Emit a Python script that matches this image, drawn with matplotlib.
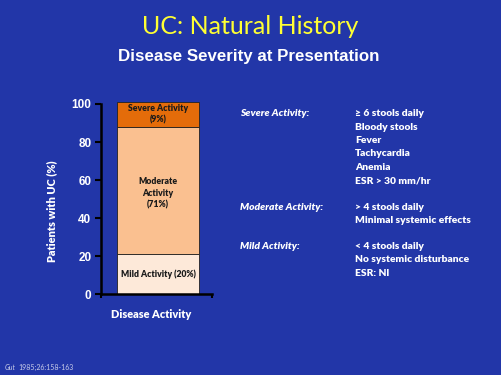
import matplotlib
matplotlib.use("Agg")
import matplotlib.pyplot as plt

# data
categories = ["Disease Activity"]
segment_names = ["Mild Activity (20%)", "Moderate\nActivity\n(71%)", "Severe Activity\n(9%)"]
segment_values = [21, 67, 13]
segment_colors = ["#FDE9D9", "#FAC090", "#E46C0A"]
y_ticks = [0, 20, 40, 60, 80, 100]

criteria_heads = ["Severe Activity:", "Moderate Activity:", "Mild Activity:"]
criteria_lines = [
    ["≥ 6 stools daily", "Bloody stools", "Fever", "Tachycardia", "Anemia", "ESR > 30 mm/hr"],
    ["> 4 stools daily", "Minimal systemic effects"],
    ["< 4 stools daily", "No systemic disturbance", "ESR: Nl"],
]

BG = "#2236A8"
W, H = 501, 375
fig = plt.figure(figsize=(W / 100, H / 100), dpi=100)
fig.patch.set_facecolor(BG)

ax = fig.add_axes([101 / W, 1 - 294.3 / H, 111 / W, 190.3 / H])
ax.set_facecolor("none")
bottom = 0
for name, val, col in zip(segment_names, segment_values, segment_colors):
    ax.bar([0.513], [val], bottom=bottom, width=0.74, color=col, edgecolor="#222222",
           linewidth=0.6, clip_on=False)
    bottom += val

fs = 6.2
lab = dict(ha="center", va="center", fontsize=fs, fontweight="heavy", color="#1a1a1a",
           family="Lato", linespacing=1.35)
ax.text(0.513, 10.5, segment_names[0], **lab)
ax.text(0.513, 53, segment_names[1], **lab)
ax.text(0.513, 94.5, segment_names[2], **lab)

ax.set_xlim(0, 1)
ax.set_ylim(0, 100)
ax.set_yticks(y_ticks)
ax.set_yticklabels([str(t) for t in y_ticks], fontsize=8.5, fontweight="bold",
                   color="white", family="Liberation Sans")
ax.set_xticks([0, 1])
ax.set_xticklabels(["", ""])
ax.tick_params(axis="y", direction="out", length=4, width=1.5, color="black", pad=3)
ax.tick_params(axis="x", direction="out", length=3, width=1.5, color="black")
for s in ["top", "right"]:
    ax.spines[s].set_visible(False)
for s in ["left", "bottom"]:
    ax.spines[s].set_color("black")
    ax.spines[s].set_linewidth(1.8)

fig.text(151.5 / W, 1 - 315 / H, categories[0], ha="center", va="center", fontsize=7.9,
         fontweight="heavy", color="white", family="Lato")
fig.text(52 / W, 1 - 211 / H, "Patients with UC (%)", ha="center", va="center",
         rotation=90, fontsize=7.9, fontweight="heavy", color="white", family="Lato")

fig.text(250 / W, 1 - 27 / H, "UC: Natural History", ha="center", va="center",
         fontsize=18, color="#FFFF33", family="Lato")
fig.text(248.5 / W, 1 - 56 / H, "Disease Severity at Presentation", ha="center", va="center",
         fontsize=12.2, fontweight="bold", color="white", family="Liberation Sans")

head_y = [114, 207.3, 246.7]
step = 13.3
for head, lines, y0 in zip(criteria_heads, criteria_lines, head_y):
    fig.text(240 / W, 1 - y0 / H, head, ha="left", va="center", fontsize=7.4,
             fontweight="heavy", style="italic", color="white", family="Lato")
    for i, ln in enumerate(lines):
        fig.text(355 / W, 1 - (y0 + i * step) / H, ln, ha="left", va="center", fontsize=7.4,
                 fontweight="heavy", color="white", family="Lato")

fig.text(5 / W, 1 - 367 / H, "Gut", ha="left", va="center", fontsize=5,
         style="italic", color="#C8CCE8", family="Lato")
fig.text(18 / W, 1 - 367 / H, "1985;26:158-163", ha="left", va="center", fontsize=5,
         color="#C8CCE8", family="Lato")

fig.savefig("out.png", dpi=100, facecolor=BG)
